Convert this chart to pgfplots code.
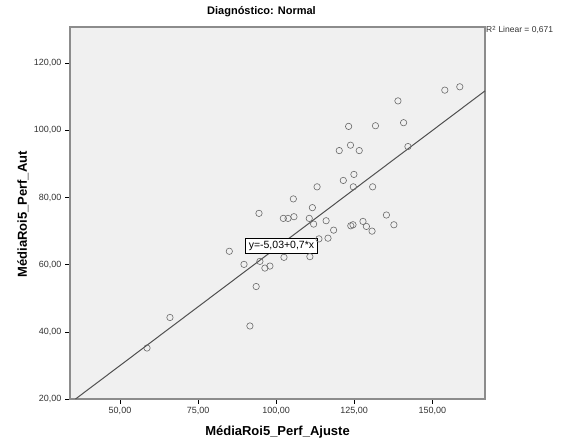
\documentclass[border=0pt]{standalone}
\usepackage{pgfplots}
\pgfplotsset{compat=1.18}
\usepackage{fontspec}
\setmainfont{Liberation Sans}
\definecolor{bg}{HTML}{F0F0F0}
\definecolor{frame}{HTML}{8C8C8C}
\definecolor{pt}{HTML}{6A6A6A}
\definecolor{fitline}{HTML}{505050}
\definecolor{txt}{HTML}{333333}
\begin{document}
\begin{tikzpicture}[x=1pt,y=1pt]
\useasboundingbox[fill=white] (0,0) rectangle (562,446);
\begin{axis}[
  at={(70pt,47pt)}, anchor=south west,
  scale only axis, width=415pt, height=372pt,
  xmin=33.99, xmax=166.87, ymin=20, ymax=130.81,
  clip=false,
  axis background/.style={fill=bg},
  axis line style={frame, line width=1.2pt},
  xtick={50,75,100,125,150}, ytick={20,40,60,80,100,120},
  tick align=outside, major tick length=5pt,
  tick style={black, line width=0.7pt},
  xtick pos=bottom, ytick pos=left,
  /pgf/number format/.cd, fixed, fixed zerofill, precision=2, use comma, 1000 sep={}, assume math mode=true,
  /pgfplots/.cd,
  ticklabel style={font=\fontsize{9}{10}\selectfont, text=txt},
  title={Diagnóstico: Normal},
  title style={at={(0.5,1)}, anchor=base, yshift=6pt, xshift=-16pt, font=\bfseries\fontsize{11}{13}\selectfont},
  xlabel={MédiaRoi5\_Perf\_Ajuste},
  xlabel style={at={(0.5,0)}, anchor=base, yshift=-37pt, font=\bfseries\fontsize{13}{15}\selectfont},
]
\addplot[only marks, mark=o, mark size=3.2pt, mark options={draw=pt, line width=0.6pt}] coordinates {
(58.65,35.19) (66.0,44.28) (85.0,64.0) (89.7,60.1) (91.6,41.75) (93.6,53.5)
(94.5,75.3) (94.8,61.0) (96.4,59.0) (98.0,59.6) (102.3,73.8) (103.8,73.8)
(105.7,74.3) (105.5,79.6) (102.5,62.2) (110.8,62.4) (110.6,73.8) (111.6,77.0)
(112.0,72.1) (116.0,73.1) (113.7,67.7) (116.6,67.9) (118.4,70.3) (113.1,83.2)
(121.5,85.1) (124.9,86.9) (124.7,83.2) (130.9,83.2) (123.9,71.6) (124.6,71.9)
(127.8,72.9) (128.9,71.4) (130.7,70.0) (135.3,74.8) (137.7,71.9) (120.2,94.0)
(123.8,95.6) (126.6,94.0) (123.2,101.2) (131.8,101.4) (140.8,102.3) (142.2,95.2)
(139.0,108.8) (154.0,112.0) (158.8,113.0)
};
\addplot[fitline, line width=1pt] coordinates {(35.76,20) (166.87,111.78)};
\node[draw=black, fill=white, line width=0.6pt, inner xsep=3pt, inner ysep=2.5pt, font=\fontsize{10.5}{12}\selectfont] at (axis cs:101.7,65.6) {y=-5,03+0,7*x};
\node[anchor=west, inner sep=1pt, font=\fontsize{8.5}{10}\selectfont, text=txt] at (rel axis cs:1,1) [yshift=-3pt] {R\textsuperscript{2} Linear = 0,671};
\node[rotate=90, anchor=base, inner sep=0pt, font=\bfseries\fontsize{13}{15}\selectfont] at (axis cs:20.2,75) {MédiaRoi5\_Perf\_Aut};
\end{axis}
\end{tikzpicture}
\end{document}
